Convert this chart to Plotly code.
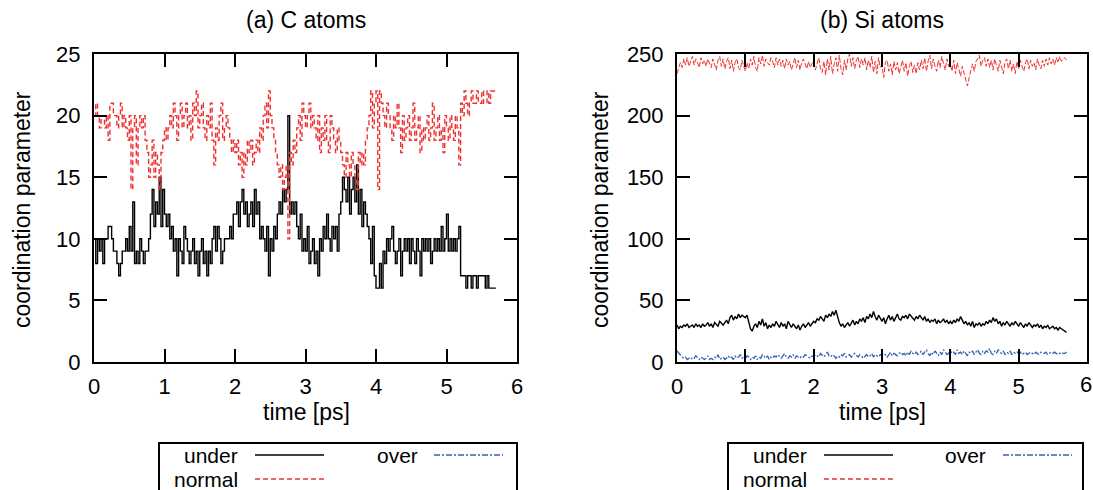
import plotly.graph_objects as go

DT = 0.025  # sampling step of the time series [ps]

# ---------------- (a) C atoms ----------------
under_c = [10, 8, 10, 9, 10, 8, 10, 10,
           11, 11, 10, 9, 9, 8, 7, 8, 9, 9, 10, 9, 11, 9, 13, 8, 9, 8, 10, 9,
           8, 9, 9, 10, 12, 14, 11, 13, 12, 15, 11, 14, 12, 11, 12, 10,
           11, 9, 10, 7, 10, 9, 8, 11, 10, 9, 8, 9, 10, 8, 9, 7,
           9, 10, 8, 9, 7, 9, 8, 10, 11, 9, 11, 10, 8, 9, 10, 10, 10, 11, 10, 12,
           12, 13, 11, 13, 14, 12, 13, 11, 12, 13, 11, 14, 12, 13, 10, 11,
           10, 9, 11, 7, 10, 9, 11, 10, 12, 13, 12, 14, 13, 14, 20, 12,
           13, 12, 13, 11, 10, 12, 9, 10, 9, 11, 8, 9, 10, 8, 9, 7,
           10, 9, 11, 10, 12, 10, 9, 11, 10, 11, 9, 12,
           13, 15, 14, 13, 15, 12, 14, 15, 13, 16, 12, 14, 11, 13, 12, 11,
           10, 8, 11, 7, 6, 6, 8, 6, 9, 8, 10, 9, 10, 11, 9, 8,
           9, 10, 7, 9, 10, 9, 10, 8, 10, 9, 8, 10, 9, 7, 10, 9,
           10, 9, 10, 8, 9, 10, 9, 10, 9, 11, 9, 10, 12, 9, 10, 9,
           10, 9, 10, 11, 7, 7, 7, 6, 7, 7, 6, 7, 7, 6, 7, 7,
           7, 7, 6, 7, 6, 6, 6, 6, 6]

normal_c = [20, 21, 20, 19, 20, 20, 19, 20,
            18, 21, 21, 20, 20, 19, 20, 21, 19, 20, 19, 18, 20, 14, 19, 20,
            16, 19, 20, 19, 20, 18, 17, 15, 16, 18, 15, 17, 16, 14, 17, 18,
            19, 18, 19, 20, 19, 21, 20, 18, 20, 21, 19, 20, 21, 19, 20, 18,
            21, 20, 22, 19, 20, 21, 19, 18, 20, 19, 21, 18, 16, 19, 18, 20,
            21, 18, 19, 20, 19, 18, 17, 18, 17, 18, 16, 17, 15, 17, 16, 18,
            17, 18, 16, 17, 18, 17, 19, 18, 20, 21, 19, 22, 20, 19, 18, 17,
            16, 15, 16, 14, 15, 16, 10, 17, 16, 18, 17, 19, 20, 18, 21, 20,
            19, 20, 21, 19, 20, 19, 18, 20, 17, 19, 18, 20, 18, 17, 20, 19,
            18, 17, 19, 18, 17, 16, 15, 17, 16, 15, 17, 16, 15, 14, 17, 16,
            17, 16, 18, 19, 20, 22, 19, 21, 22, 14, 22, 21, 20, 19, 21, 20,
            19, 18, 20, 19, 21, 19, 17, 20, 18, 19, 20, 18, 19, 21, 18, 19,
            20, 17, 19, 18, 19, 20, 18, 19, 21, 18, 19, 20, 18, 19, 17, 20,
            19, 18, 20, 19, 18, 20, 19, 16, 21, 20, 22, 21, 20, 21, 22, 21,
            21, 22, 21, 21, 22, 21, 21, 22, 21, 22, 22, 22, 22]

# ---------------- (b) Si atoms ----------------
normal_si = [234, 238, 243, 239, 246, 241, 247, 240, 245, 248, 241, 246, 243, 239, 247, 242, 245, 240, 246, 242,
             239, 246, 242, 237, 245, 248, 240, 246, 238, 244, 247, 238, 245, 236, 243, 246, 239, 237, 245, 240,
             236, 243, 238, 246, 241, 248, 239, 236, 247, 242, 249, 240, 246, 243, 241, 247, 244, 239, 247, 241,
             246, 240, 245, 238, 246, 241, 244, 237, 243, 247, 239, 245, 237, 243, 246, 241, 238, 244, 239, 242,
             244, 237, 242, 247, 238, 235, 244, 233, 246, 237, 248, 234, 242, 247, 236, 249, 238, 233, 245, 237,
             246, 250, 240, 247, 238, 245, 248, 239, 246, 241, 247, 237, 245, 239, 248, 235, 244, 234, 247, 239,
             241, 231, 243, 245, 236, 242, 233, 244, 237, 243, 234, 241, 245, 236, 243, 232, 240, 244, 235, 241,
             234, 243, 237, 245, 238, 247, 236, 244, 249, 238, 246, 240, 236, 245, 239, 248, 241, 237, 246, 240,
             242, 236, 245, 234, 243, 237, 232, 240, 235, 228, 224, 231, 238, 242, 236, 244, 246, 249, 240, 245,
             247, 240, 246, 239, 245, 237, 246, 241, 236, 245, 239, 234, 243, 246, 238, 245, 236, 242, 234, 244,
             238, 245, 240, 236, 243, 246, 238, 245, 240, 243, 237, 246, 241, 238, 245, 240, 246, 241, 247, 242,
             246, 241, 247, 243, 248, 244, 246, 247, 245]

under_si = [30, 27, 29, 28, 30, 29, 31, 28, 29, 30, 28, 31, 29, 30, 28, 31, 29, 30, 32, 29,
            31, 28, 32, 30, 29, 33, 31, 30, 32, 34, 31, 36, 38, 34, 37, 35, 39, 36, 38, 37,
            36, 38, 31, 27, 25, 29, 31, 28, 33, 30, 35, 29, 32, 27, 30, 28, 31, 29, 33, 30,
            28, 32, 29, 31, 27, 33, 30, 28, 31, 29, 27, 30, 26, 29, 31, 28, 30, 32, 29, 31,
            33, 32, 35, 34, 37, 35, 33, 38, 36, 39, 37, 41, 38, 42, 36, 32, 29, 31, 28, 30,
            32, 29, 31, 34, 30, 33, 31, 35, 33, 36, 32, 37, 35, 39, 36, 41, 37, 34, 38, 35,
            33, 36, 31, 35, 38, 34, 37, 33, 36, 39, 35, 34, 37, 36, 38, 35, 39, 37, 36, 34,
            37, 35, 38, 36, 34, 37, 33, 35, 32, 34, 33, 35, 31, 34, 32, 33, 35, 32, 34, 31,
            33, 31, 34, 32, 35, 33, 37, 34, 31, 33, 30, 32, 29, 33, 28, 31, 30, 32, 29, 31,
            30, 33, 31, 34, 32, 36, 33, 35, 31, 33, 29, 32, 30, 33, 31, 29, 32, 30, 33, 31,
            29, 32, 30, 28, 31, 29, 32, 30, 28, 30, 29, 31, 28, 30, 27, 29, 28, 30, 27, 28,
            29, 27, 28, 26, 28, 27, 26, 25, 24]

over_si = [9, 7, 5, 4, 3, 4, 2, 3, 4, 2, 3, 5, 3, 2, 4, 3, 2, 3, 5, 2,
           3, 2, 4, 3, 6, 2, 3, 4, 2, 3, 5, 3, 4, 2, 5, 3, 4, 6, 3, 4,
           3, 5, 4, 2, 4, 3, 5, 2, 4, 3, 6, 4, 3, 5, 2, 4, 3, 5, 4, 6,
           4, 3, 5, 7, 4, 3, 5, 4, 6, 3, 5, 4, 3, 5, 4, 6, 5, 4, 3, 5,
           4, 6, 5, 4, 7, 5, 4, 6, 8, 5, 4, 6, 5, 3, 5, 4, 6, 5, 7, 4,
           5, 6, 4, 5, 7, 5, 4, 6, 5, 3, 5, 6, 4, 5, 7, 4, 6, 5, 4, 6,
           5, 7, 6, 4, 6, 8, 5, 7, 6, 5, 7, 8, 6, 7, 5, 8, 6, 9, 7, 6,
           8, 6, 7, 9, 6, 8, 10, 7, 5, 8, 6, 9, 7, 5, 8, 6, 10, 8, 6, 7,
           9, 7, 8, 6, 10, 7, 8, 6, 9, 7, 5, 8, 7, 9, 6, 8, 10, 7, 6, 9,
           7, 9, 8, 11, 7, 6, 9, 7, 10, 8, 7, 9, 6, 8, 7, 9, 6, 8, 7, 8,
           7, 8, 6, 7, 8, 6, 7, 8, 7, 6, 8, 7, 6, 8, 7, 7, 8, 6, 7, 8,
           7, 8, 7, 6, 7, 8, 7, 7, 8]

titles = ["(a) C atoms", "(b) Si atoms"]
x_title = "time [ps]"
y_title = "coordination parameter"
legend_names = ["under", "normal", "over"]
x_ticks = [0, 1, 2, 3, 4, 5, 6]
y_ticks_c = [0, 5, 10, 15, 20, 25]
y_ticks_si = [0, 50, 100, 150, 200, 250]

time_c = [i * DT for i in range(len(under_c))]
time_si = [i * DT for i in range(len(under_si))]

BLACK = "#000000"
RED = "#f03030"
BLUE = "#2f62b4"
FONT = "Liberation Sans, Arial, Helvetica, sans-serif"
FS = 23
FS_TICK = 22
FS_LEG = 21

fig = go.Figure()
fig.add_trace(go.Scatter(x=time_c, y=under_c, mode="lines", name="under",
                         line=dict(color=BLACK, width=1.4, shape="hv"), xaxis="x", yaxis="y"))
fig.add_trace(go.Scatter(x=time_c, y=normal_c, mode="lines", name="normal",
                         line=dict(color=RED, width=1.4, dash="5px,3px", shape="hv"), xaxis="x", yaxis="y"))
fig.add_trace(go.Scatter(x=time_si, y=under_si, mode="lines", name="under",
                         line=dict(color=BLACK, width=1.4), xaxis="x2", yaxis="y2"))
fig.add_trace(go.Scatter(x=time_si, y=normal_si, mode="lines", name="normal",
                         line=dict(color=RED, width=1.0, dash="5px,2px"), xaxis="x2", yaxis="y2"))
fig.add_trace(go.Scatter(x=time_si, y=over_si, mode="lines", name="over",
                         line=dict(color=BLUE, width=1.3, dash="6px,2px,2px,2px"), xaxis="x2", yaxis="y2"))

W, H = 1093, 490
dom_x1 = [94 / W, 517 / W]
dom_x2 = [677 / W, 1087 / W]
dom_y = [(H - 362) / H, (H - 54) / H]

axis_common = dict(showline=True, mirror="allticks", linecolor="black", linewidth=2,
                   ticks="inside", ticklen=13, tickwidth=2, tickcolor="black",
                   showgrid=False, zeroline=False, automargin=False,
                   tickfont=dict(family=FONT, size=FS_TICK, color="black"))

fig.update_layout(
    width=W, height=H, margin=dict(l=0, r=0, t=0, b=0, pad=0, autoexpand=False),
    paper_bgcolor="white", plot_bgcolor="white", showlegend=False,
    font=dict(family=FONT, size=FS, color="black"),
    xaxis=dict(domain=dom_x1, range=[0, 6], tickvals=x_ticks, anchor="y",
               ticklabelstandoff=4, **axis_common),
    yaxis=dict(domain=dom_y, range=[0, 25], tickvals=y_ticks_c, anchor="x",
               ticklabelstandoff=7, **axis_common),
    xaxis2=dict(domain=dom_x2, range=[0, 6], tickvals=x_ticks, anchor="y2",
                ticklabelstandoff=4, **axis_common),
    yaxis2=dict(domain=dom_y, range=[0, 250], tickvals=y_ticks_si, anchor="x2",
                ticklabelstandoff=7, **axis_common),
)

def px(x):
    return x / W

def py(y):
    return (H - y) / H

annotations = []
shapes = []
for cx, title in zip([306, 882], titles):
    annotations.append(dict(x=px(cx), y=py(20), xref="paper", yref="paper", text=title,
                            showarrow=False, xanchor="center", yanchor="middle"))
for cx in [306, 882]:
    annotations.append(dict(x=px(cx), y=py(412), xref="paper", yref="paper", text=x_title,
                            showarrow=False, xanchor="center", yanchor="middle"))
for cx in [22, 600]:
    annotations.append(dict(x=px(cx), y=py(210), xref="paper", yref="paper", text=y_title,
                            showarrow=False, textangle=-90, xanchor="center", yanchor="middle"))
# last x tick label of panel (b) sits at the page edge; plotly hides it, so keep it inside the page
annotations.append(dict(x=1.0, y=py(384), xref="paper", yref="paper", text=str(x_ticks[-1]),
                        showarrow=False, xanchor="right", yanchor="middle", xshift=1,
                        font=dict(size=FS_TICK)))

# custom legends (text left of the line sample, gnuplot style)
legend_boxes = [
    dict(x0=159, x1=517, text_end=[240, 240, 420], line_x=[(255, 324), (255, 324), (434, 503)]),
    dict(x0=728, x1=1083, text_end=[809, 809, 988], line_x=[(824, 893), (824, 893), (1003, 1072)]),
]
row_y = [455, 479, 455]
styles = [dict(color=BLACK, width=1.4), dict(color=RED, width=1.4, dash="5px,3px"),
          dict(color=BLUE, width=1.4, dash="6px,2px,2px,2px")]
for box in legend_boxes:
    shapes.append(dict(type="rect", xref="paper", yref="paper", x0=px(box["x0"]), x1=px(box["x1"]),
                       y0=py(495), y1=py(443), line=dict(color="black", width=2), fillcolor="rgba(0,0,0,0)"))
    for name, te, (lx0, lx1), ry, st in zip(legend_names, box["text_end"], box["line_x"], row_y, styles):
        annotations.append(dict(x=px(te), y=py(ry), xref="paper", yref="paper", text=name,
                                showarrow=False, xanchor="right", yanchor="middle",
                                font=dict(size=FS_LEG)))
        shapes.append(dict(type="line", xref="paper", yref="paper", x0=px(lx0), x1=px(lx1),
                           y0=py(ry), y1=py(ry), line=st))

fig.update_layout(annotations=annotations, shapes=shapes)
fig.write_html("out.html")
